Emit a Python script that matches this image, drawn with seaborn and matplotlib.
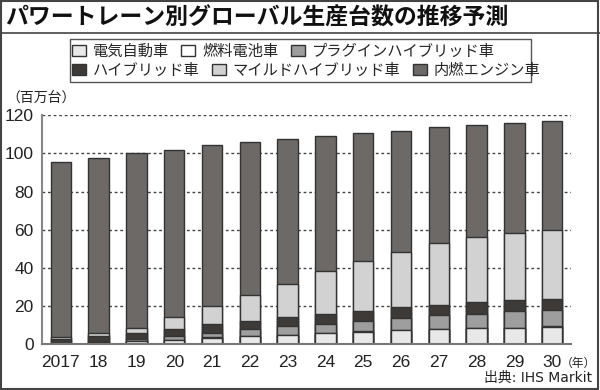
import numpy as np
import pandas as pd
import matplotlib
matplotlib.use("Agg")
import matplotlib.pyplot as plt
import matplotlib.patches as mpatches
import matplotlib.lines as mlines
from matplotlib import font_manager
import seaborn as sns

# data (million units)
years = ["2017", "18", "19", "20", "21", "22", "23", "24", "25", "26", "27", "28", "29", "30"]
ev   = [0.1, 0.7, 1.9, 2.4, 3.5, 4.3, 4.8, 5.7, 6.7, 7.4, 7.8, 8.3, 8.6, 9.3]
fcv  = [0.0, 0.0, 0.0, 0.05, 0.1, 0.1, 0.1, 0.1, 0.1, 0.1, 0.1, 0.1, 0.1, 0.1]
phev = [0.3, 0.5, 1.0, 1.8, 2.5, 3.4, 4.5, 5.0, 5.6, 6.5, 7.3, 7.7, 8.6, 8.8]
hev  = [2.5, 3.1, 2.8, 3.6, 4.3, 4.6, 4.9, 5.1, 5.2, 5.4, 5.6, 5.9, 5.8, 5.7]
mhev = [1.0, 1.4, 3.0, 6.2, 9.8, 13.5, 17.1, 22.4, 26.1, 29.2, 32.1, 34.2, 35.4, 36.0]
ice  = [91.5, 91.9, 91.4, 87.8, 84.1, 80.1, 76.4, 70.9, 66.9, 63.0, 61.0, 58.9, 57.7, 57.1]

series_names = ["電気自動車", "燃料電池車", "プラグインハイブリッド車",
                "ハイブリッド車", "マイルドハイブリッド車", "内燃エンジン車"]
colors = ["#e8e8e8", "#ffffff", "#9e9e9e", "#3e3a37", "#d2d2d2", "#6c6967"]

df = pd.DataFrame({"year": years, "ev": ev, "fcv": fcv, "phev": phev,
                   "hev": hev, "mhev": mhev, "ice": ice})
cols = ["ev", "fcv", "phev", "hev", "mhev", "ice"]
cum = df[cols].cumsum(axis=1)

sns.set_style("white")
jp = "Noto Sans CJK JP"
plt.rcParams['font.family'] = [jp, 'DejaVu Sans']

# condensed font for the numbers if it is there
installed = {f.name for f in font_manager.fontManager.ttflist}
num_font = "Liberation Sans Narrow" if "Liberation Sans Narrow" in installed else "Liberation Sans"

W, H = 600, 390
fig = plt.figure(figsize=(6, 3.9), dpi=100)

def fx(px):
    return px / W

def fy(py):
    return 1 - py / H

ax = fig.add_axes([fx(42), fy(344.3), fx(571) - fx(42), fy(115.3) - fy(344.3)])

edge = "#333333"
# stacked bars: draw cumulative totals from the top layer down
for col, c in zip(cols[::-1], colors[::-1]):
    sns.barplot(x=df["year"], y=cum[col], color=c, saturation=1, width=0.54,
                edgecolor=edge, linewidth=1, errorbar=None, ax=ax)

ax.set_xlim(-0.5, len(years) - 0.5)
ax.set_ylim(0, 120)
ax.set_yticks(np.arange(0, 121, 20))
ax.set_xlabel("")
ax.set_ylabel("")
ax.set_axisbelow(True)
ax.yaxis.grid(True, color="#444444", linestyle=(0, (2, 2)), linewidth=1)
ax.xaxis.grid(False)
for s in ["top", "right"]:
    ax.spines[s].set_visible(False)
ax.spines["left"].set_color("#888888")
ax.spines["bottom"].set_color("#777777")
ax.spines["left"].set_linewidth(1.5)
ax.spines["bottom"].set_linewidth(1.5)
ax.tick_params(axis="both", length=0, labelsize=12.5, colors="#222222")
ax.tick_params(axis="y", pad=6)
ax.tick_params(axis="x", pad=7.5)
ax.set_xticks(range(len(years)))
ax.set_xticklabels(years)
for lab in ax.get_xticklabels() + ax.get_yticklabels():
    lab.set_family([num_font, jp])

ax.annotate("（年）", xy=(len(years) - 1, 0), xycoords="data",
            xytext=(6, -16.5), textcoords="offset points",
            ha="left", va="baseline", fontsize=8.5, color="#222222")

# title and frame
fig.text(fx(5), fy(18), "パワートレーン別グローバル生産台数の推移予測",
         fontsize=16.5, fontweight="bold", va="center", ha="left", color="#111111")
fig.add_artist(mlines.Line2D([0, 1], [fy(33), fy(33)], transform=fig.transFigure,
                             color="#444444", linewidth=1.2))
fig.add_artist(mpatches.Rectangle((0.002, 0.003), 0.995, 0.994, transform=fig.transFigure,
                                  fill=False, edgecolor="#444444", linewidth=1.5))

# legend box with two rows
fig.add_artist(mpatches.Rectangle((fx(70), fy(82)), fx(531) - fx(70), fy(39) - fy(82),
                                  transform=fig.transFigure, fill=False,
                                  edgecolor="#555555", linewidth=1))
handles = [mpatches.Patch(facecolor=c, edgecolor=edge, linewidth=1) for c in colors]
for row, ycen in [(0, 51.5), (1, 70.5)]:
    idx = range(row * 3, row * 3 + 3)
    fig.legend([handles[i] for i in idx], [series_names[i] for i in idx],
               loc="center left", bbox_to_anchor=(fx(72), fy(ycen)),
               bbox_transform=fig.transFigure, ncol=3, frameon=False,
               fontsize=11, borderpad=0, borderaxespad=0,
               handlelength=0.92, handleheight=0.78, handletextpad=0.45,
               columnspacing=0.8)

fig.text(fx(6), fy(98), "（百万台）", fontsize=10, va="center", ha="left", color="#222222")
fig.text(fx(592), fy(378), "出典: IHS Markit", fontsize=10, va="center", ha="right",
         color="#222222", family=["DejaVu Sans", jp])

fig.savefig("out.png", dpi=100)
